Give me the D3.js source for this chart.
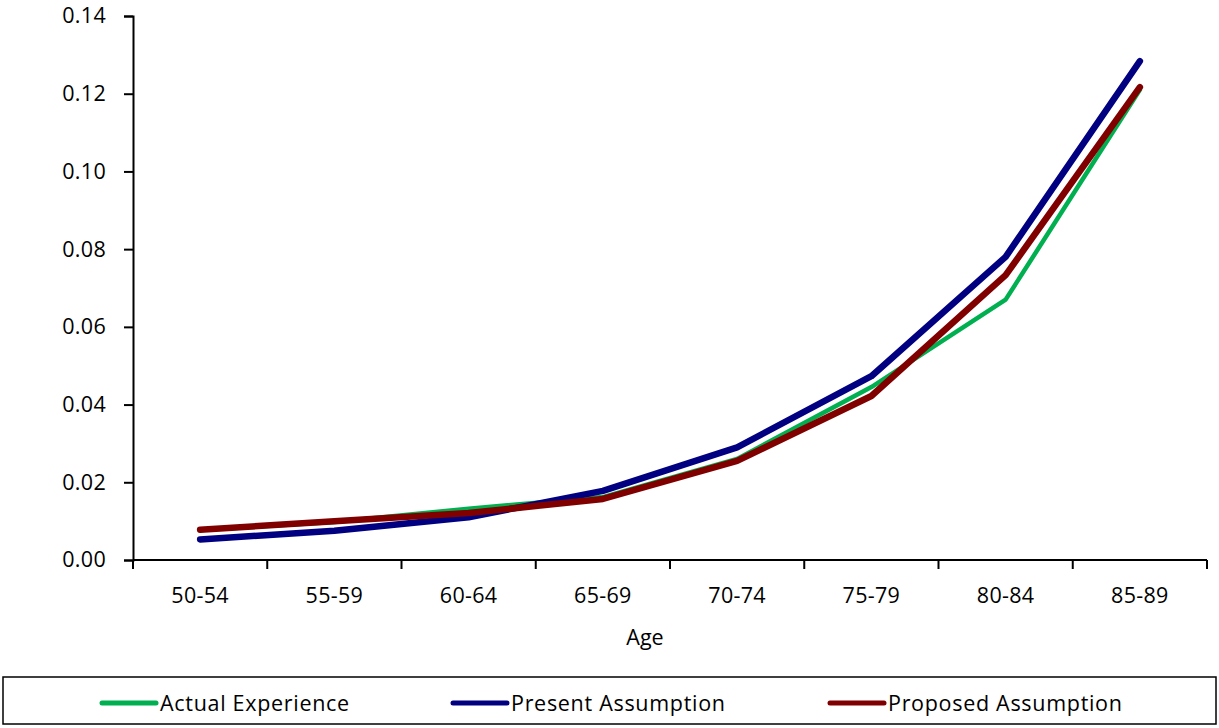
<!DOCTYPE html>
<html><head><meta charset="utf-8">
<script src="https://cdn.jsdelivr.net/npm/d3@7"></script>
<style>body{margin:0;background:#fff}svg{display:block}text{font-family:"Open Sans",sans-serif;fill:#000}</style>
</head><body><svg id="c" width="1219" height="728"></svg>
<script>
const categories = ["50-54","55-59","60-64","65-69","70-74","75-79","80-84","85-89"];
const actualExperience = [0.0077,0.0098,0.0132,0.0162,0.0260,0.0445,0.0670,0.1210];
const presentAssumption = [0.0053,0.0075,0.0110,0.0178,0.0290,0.0473,0.0780,0.1284];
const proposedAssumption = [0.0078,0.0100,0.0121,0.0157,0.0255,0.0422,0.0733,0.1217];
const yTicks = [0,0.02,0.04,0.06,0.08,0.10,0.12,0.14];
const seriesNames = ["Actual Experience","Present Assumption","Proposed Assumption"];
const seriesColors = ["#00B050","#000080","#800000"];
const seriesWidths = [4.5,6.5,6.5];

const svg = d3.select("#c");
const L=133,R=1207,T=16,B=560;
const x = d3.scaleBand().domain(categories).range([L,R]);
const y = d3.scaleLinear().domain([0,0.14]).range([B,T]);

const yAx = svg.append("g").attr("transform",`translate(${L},0)`)
  .call(d3.axisLeft(y).tickValues(yTicks).tickFormat(d3.format(".2f")).tickSize(9).tickPadding(18));
const xAx = svg.append("g").attr("transform",`translate(0,${B})`)
  .call(d3.axisBottom(x).tickSize(0).tickPadding(28));
[yAx,xAx].forEach(g=>{g.select(".domain").attr("stroke","#000").attr("stroke-width",2);
  g.selectAll("line").attr("stroke","#000").attr("stroke-width",2);
  g.selectAll("text").style("font-size","21.5px").style("letter-spacing","0.3px").attr("fill","#000");});
xAx.selectAll(".domain").attr("d",`M${L},0H${R}`);
const bounds = categories.map(c=>x(c)).concat([R]);
xAx.selectAll(".bt").data(bounds).enter().append("line").attr("class","bt")
  .attr("x1",d=>d).attr("x2",d=>d).attr("y1",0).attr("y2",9).attr("stroke","#000").attr("stroke-width",2);

svg.append("text").attr("x",645).attr("y",645).attr("text-anchor","middle").style("font-size","21.5px").text("Age");

const data=[actualExperience,presentAssumption,proposedAssumption];
const line=d3.line().x((d,i)=>x(categories[i])+x.bandwidth()/2).y(d=>y(d));
data.forEach((s,k)=>{
  svg.append("path").datum(s).attr("d",line).attr("fill","none")
    .attr("stroke",seriesColors[k]).attr("stroke-width",seriesWidths[k])
    .attr("stroke-linecap","round").attr("stroke-linejoin","round");
});

svg.append("rect").attr("x",3).attr("y",677).attr("width",1213).attr("height",47)
  .attr("fill","none").attr("stroke","#000").attr("stroke-width",1.5);
const legX=[102,453,830];
seriesNames.forEach((n,k)=>{
  svg.append("line").attr("x1",legX[k]).attr("x2",legX[k]+54).attr("y1",703).attr("y2",703)
    .attr("stroke",seriesColors[k]).attr("stroke-width",5).attr("stroke-linecap","round");
  svg.append("text").attr("x",legX[k]+58).attr("y",711).style("font-size","21.5px")
    .style("letter-spacing","0.7px").text(n);
});
</script></body></html>
